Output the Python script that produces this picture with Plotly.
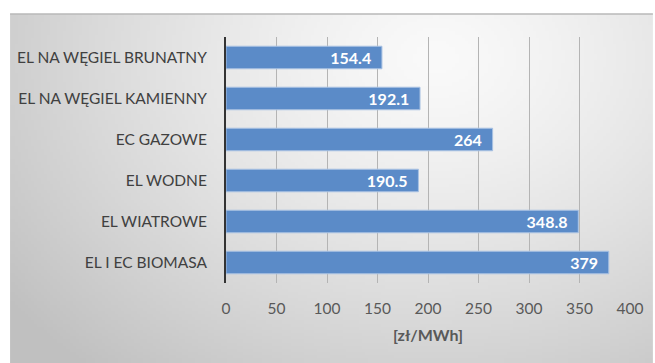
import base64
import struct
import zlib

import numpy as np
import plotly.graph_objects as go

# Levelised cost of electricity by plant type, zł/MWh
categories = [
    "EL NA WĘGIEL BRUNATNY",
    "EL NA WĘGIEL KAMIENNY",
    "EC GAZOWE",
    "EL WODNE",
    "EL WIATROWE",
    "EL I EC BIOMASA",
]
costs = [154.4, 192.1, 264, 190.5, 348.8, 379]
value_labels = ["154.4", "192.1", "264", "190.5", "348.8", "379"]
x_ticks = [0, 50, 100, 150, 200, 250, 300, 350, 400]

W, H = 655, 363
ML, MR, MT, MB = 226, 23, 37, 80


def png_data_uri(rgb):
    """Encode an (h, w, 3) uint8 array as a PNG data URI."""
    h, w, _ = rgb.shape
    raw = b"".join(b"\x00" + rgb[i].tobytes() for i in range(h))

    def chunk(tag, data):
        c = struct.pack(">I", len(data)) + tag + data
        return c + struct.pack(">I", zlib.crc32(tag + data) & 0xFFFFFFFF)

    png = b"\x89PNG\r\n\x1a\n"
    png += chunk(b"IHDR", struct.pack(">IIBBBBB", w, h, 8, 2, 0, 0, 0))
    png += chunk(b"IDAT", zlib.compress(raw, 9))
    png += chunk(b"IEND", b"")
    return "data:image/png;base64," + base64.b64encode(png).decode()


# Soft radial grey backdrop for the chart panel
gw, gh = 200, 110
yy, xx = np.mgrid[0:gh, 0:gw]
cx, cy = 0.66 * gw, 0.12 * gh
d = np.sqrt(((xx - cx) / (0.75 * gw)) ** 2 + ((yy - cy) / (1.05 * gh)) ** 2)
shade = 250 - 50 * np.clip(d, 0, 1.25) ** 1.3
shade = np.clip(shade, 192, 252).astype(np.uint8)
bg = np.stack([shade, shade, shade], axis=-1)
bg_uri = png_data_uri(bg)

panel_x0, panel_y0 = 9, 14
pw, ph = W - ML - MR, H - MT - MB
px0 = (panel_x0 - ML) / pw
py0 = 1 + (MT - panel_y0) / ph

pad = "\u00a0\u00a0"
bar_text = [t + pad for t in value_labels]

fig = go.Figure(
    go.Bar(
        x=costs,
        y=categories,
        orientation="h",
        marker=dict(color="#5b8bc8", line=dict(color="#a9c2e3", width=1)),
        text=bar_text,
        textposition="inside",
        insidetextanchor="end",
        textfont=dict(family="Lato", size=16, color="white", weight="bold"),
        cliponaxis=False,
        width=0.55,
    )
)

fig.update_layout(
    width=W,
    height=H,
    margin=dict(l=ML, r=MR, t=MT, b=MB),
    paper_bgcolor="white",
    plot_bgcolor="rgba(0,0,0,0)",
    showlegend=False,
    uniformtext=dict(minsize=16, mode="show"),
    images=[
        dict(
            source=bg_uri,
            xref="paper",
            yref="paper",
            x=px0,
            y=py0,
            sizex=(W - panel_x0) / pw,
            sizey=(H - panel_y0) / ph,
            xanchor="left",
            yanchor="top",
            sizing="stretch",
            layer="below",
        )
    ],
    shapes=[
        dict(
            type="line",
            xref="paper",
            yref="paper",
            x0=px0,
            x1=(W - ML) / pw,
            y0=py0,
            y1=py0,
            line=dict(color="#b8b8b8", width=1.5),
            layer="below",
        )
    ],
    xaxis=dict(
        range=[0, 400],
        tickvals=x_ticks,
        showgrid=True,
        gridcolor="#b4b4b4",
        gridwidth=1,
        zeroline=False,
        showline=False,
        tickfont=dict(family="Lato", size=15.5, color="#595959"),
        ticklabelstandoff=14,
        title=dict(
            text="[zł/MWh]",
            font=dict(family="Lato", size=16, color="#595959", weight="bold"),
            standoff=14,
        ),
    ),
    yaxis=dict(
        autorange="reversed",
        showgrid=False,
        zeroline=False,
        showline=True,
        linecolor="#333333",
        linewidth=2,
        tickfont=dict(family="Lato", size=15.5, color="#404040"),
        ticklabelstandoff=14,
    ),
    bargap=0.45,
)

fig.write_html("out.html")
